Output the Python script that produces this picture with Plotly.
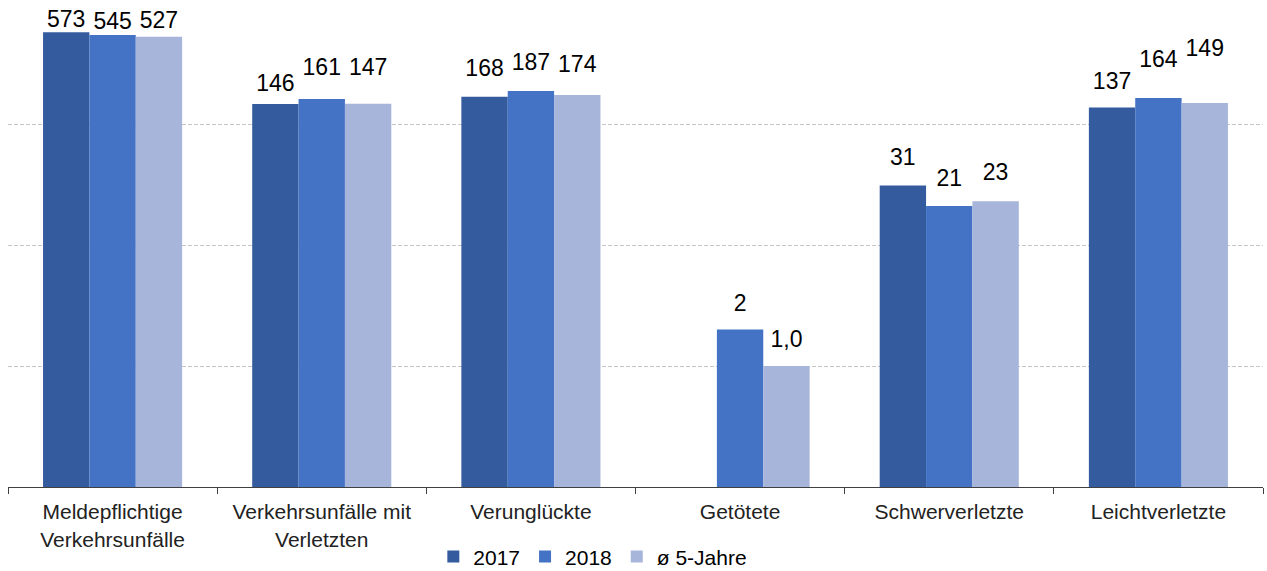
import plotly.graph_objects as go

categories = [
    "Meldepflichtige<br>Verkehrsunfälle",
    "Verkehrsunfälle mit<br>Verletzten",
    "Verunglückte",
    "Getötete",
    "Schwerverletzte",
    "Leichtverletzte",
]
series_names = ["2017", "2018", "ø 5-Jahre"]
values_2017 = [573, 146, 168, 0, 31, 137]
values_2018 = [545, 161, 187, 2, 21, 164]
values_avg = [527, 147, 174, 1.0, 23, 149]
colors = ["#345B9E", "#4472C4", "#A7B5DB"]

# pixel gap between each bar top and its value label (staggered so labels don't collide)
gap_2017 = [2, 12, 20, 0, 20, 18]
gap_2018 = [4, 23, 20, 18, 19, 30]
gap_avg = [8, 28, 22, 18, 20, 46]

GAP = 0.335
FONT = "Liberation Sans, Arial"


def label(v, decimal_small=False):
    if v == 0:
        return ""
    if decimal_small and v < 10:
        return f"{v:.1f}".replace(".", ",")
    return f"{v:.0f}"


def pad_to_marker_size(gaps):
    # an invisible marker pushes the "top center" text up by about size/1.6 + 6 px
    return [max(0.0, (g - 6) * 1.6) for g in gaps]


fig = go.Figure()
all_series = [values_2017, values_2018, values_avg]
all_gaps = [gap_2017, gap_2018, gap_avg]
for i, (name, vals, col) in enumerate(zip(series_names, all_series, colors)):
    fig.add_trace(go.Bar(
        x=categories,
        y=[v if v > 0 else None for v in vals],
        name=name,
        marker=dict(color=col, line=dict(width=0)),
        offsetgroup=str(i),
        hoverinfo="x+y",
    ))

# value labels, grouped the same way as the bars so they sit over each bar
for i, (name, vals, gaps) in enumerate(zip(series_names, all_series, all_gaps)):
    dec = name.startswith("ø")
    fig.add_trace(go.Scatter(
        x=categories,
        y=[v if v > 0 else None for v in vals],
        mode="markers+text",
        marker=dict(size=pad_to_marker_size(gaps), opacity=0),
        text=[label(v, dec) for v in vals],
        textposition="top center",
        textfont=dict(size=23, color="#000000", family=FONT),
        offsetgroup=str(i),
        showlegend=False,
        hoverinfo="skip",
        cliponaxis=False,
    ))

fig.update_layout(
    width=1267,
    height=571,
    margin=dict(l=8, r=4, t=3, b=84, autoexpand=False),
    paper_bgcolor="white",
    plot_bgcolor="white",
    barmode="group",
    bargap=GAP,
    bargroupgap=0,
    scattermode="group",
    scattergap=GAP,
    font=dict(family=FONT, size=21, color="#222222"),
    showlegend=True,
    legend=dict(
        orientation="h",
        x=0.466, xanchor="center",
        yref="container",
        y=0.025, yanchor="middle",
        font=dict(size=21, color="#000000"),
        itemwidth=30,
        traceorder="normal",
    ),
)

fig.update_xaxes(
    type="category",
    showline=True,
    linecolor="#404040",
    linewidth=1,
    ticks="outside",
    tickson="boundaries",
    ticklen=6,
    tickcolor="#404040",
    tickfont=dict(size=21, color="#222222"),
    ticklabelstandoff=6,
    showgrid=False,
    automargin=False,
)
fig.update_yaxes(
    type="log",
    range=[-1, 3],
    showticklabels=False,
    showgrid=True,
    gridcolor="#C6C6C6",
    griddash="4px,2px",
    gridwidth=1,
    dtick=1,
    zeroline=False,
    showline=False,
    automargin=False,
)

fig.write_html("out.html")
